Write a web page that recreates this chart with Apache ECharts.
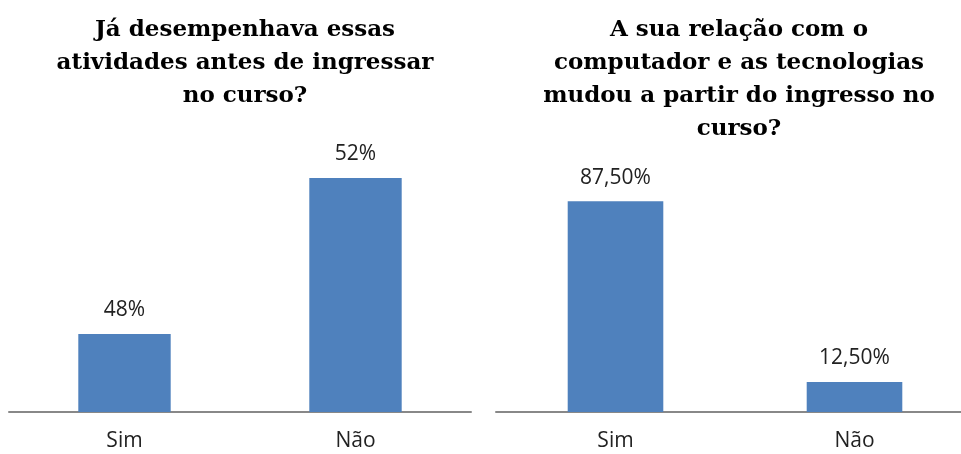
<!DOCTYPE html>
<html>
<head>
<meta charset="utf-8">
<script src="https://cdn.jsdelivr.net/npm/echarts@6/dist/echarts.min.js"></script>
<style>
  html, body { margin: 0; padding: 0; background: #fff; }
  #chart { width: 961px; height: 454px; }
</style>
</head>
<body>
<div id="chart"></div>
<script>
var categories = ['Sim', 'Não'];
var leftTitle = 'Já desempenhava essas\natividades antes de ingressar\nno curso?';
var leftValues = [48, 52];
var rightTitle = 'A sua relação com o\ncomputador e as tecnologias\nmudou a partir do ingresso no\ncurso?';
var rightValues = [87.5, 12.5];

var chart = echarts.init(document.getElementById('chart'));

var titleStyle = {
  fontFamily: 'DejaVu Serif',
  fontWeight: 'bold',
  fontSize: 23,
  lineHeight: 33,
  color: '#000'
};
var labelFont = { fontFamily: 'Open Sans', fontSize: 21, color: '#222' };

function xAxisFor(i) {
  return {
    type: 'category',
    gridIndex: i,
    data: categories,
    axisTick: { show: false },
    axisLine: { lineStyle: { color: '#888888', width: 2 } },
    axisLabel: Object.assign({ margin: 19 }, labelFont)
  };
}

var option = {
  backgroundColor: '#fff',
  animation: false,
  title: [
    { text: leftTitle, left: 240, top: 9, textAlign: 'center', textStyle: titleStyle },
    { text: rightTitle, left: 734, top: 9, textAlign: 'center', textStyle: titleStyle }
  ],
  grid: [
    { left: 9, width: 462, top: 100, bottom: 42, outerBoundsMode: 'none' },
    { left: 496, width: 478, top: 171, bottom: 42, outerBoundsMode: 'none' }
  ],
  xAxis: [xAxisFor(0), xAxisFor(1)],
  yAxis: [
    { type: 'value', gridIndex: 0, min: 46, max: 54, show: false },
    { type: 'value', gridIndex: 1, min: 0, max: 100, show: false }
  ],
  series: [
    {
      type: 'bar',
      xAxisIndex: 0,
      yAxisIndex: 0,
      data: leftValues,
      barWidth: '40%',
      itemStyle: { color: '#4f81bd' },
      label: Object.assign({
        show: true, position: 'top', distance: 13,
        formatter: function (p) { return p.value + '%'; }
      }, labelFont)
    },
    {
      type: 'bar',
      xAxisIndex: 1,
      yAxisIndex: 1,
      data: rightValues,
      barWidth: '40%',
      itemStyle: { color: '#4f81bd' },
      label: Object.assign({
        show: true, position: 'top', distance: 13,
        formatter: function (p) { return p.value.toFixed(2).replace('.', ',') + '%'; }
      }, labelFont)
    }
  ]
};

chart.setOption(option);
</script>
</body>
</html>
